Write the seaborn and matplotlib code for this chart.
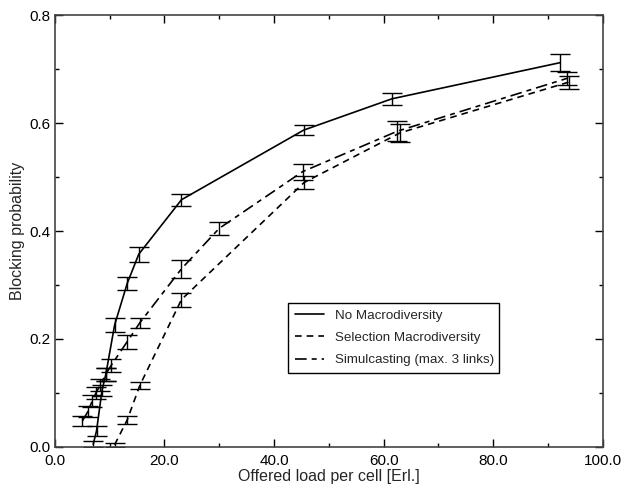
import pandas as pd
import seaborn as sns
import numpy as np
import matplotlib.pyplot as plt
from matplotlib.ticker import MultipleLocator, FormatStrFormatter

# values
no_macro_x = [7.0, 7.6, 8.6, 9.3, 10.9, 13.2, 15.3, 23.1, 45.4, 61.5, 92.2]
no_macro_y = [0.005, 0.03, 0.105, 0.135, 0.226, 0.303, 0.357, 0.458, 0.587, 0.645, 0.712]
no_macro_err = [0.006, 0.009, 0.01, 0.012, 0.013, 0.012, 0.014, 0.011, 0.009, 0.011, 0.016]

selection_x = [10.9, 13.2, 15.5, 23.1, 45.5, 63.0, 93.8]
selection_y = [0.004, 0.05, 0.114, 0.273, 0.49, 0.582, 0.676]
selection_err = [0.004, 0.008, 0.006, 0.013, 0.012, 0.017, 0.012]

simulcast_x = [5.0, 6.0, 6.8, 7.5, 8.3, 9.3, 10.2, 13.2, 15.5, 23.1, 30.0, 45.2, 62.5, 93.5]
simulcast_y = [0.048, 0.065, 0.085, 0.10, 0.115, 0.135, 0.15, 0.195, 0.23, 0.33, 0.405, 0.51, 0.585, 0.683]
simulcast_err = [0.01, 0.01, 0.011, 0.011, 0.011, 0.012, 0.012, 0.013, 0.009, 0.017, 0.012, 0.015, 0.019, 0.012]

sns.set_style('ticks')
plt.rcParams['font.family'] = ['Liberation Sans', 'DejaVu Sans']

fig = plt.figure(figsize=(6.24, 4.9), dpi=100)
ax = fig.add_axes([0.088, 0.088, 0.878, 0.881])

series = [
    ("No Macrodiversity", no_macro_x, no_macro_y, no_macro_err, '-'),
    ("Selection Macrodiversity", selection_x, selection_y, selection_err, (0, (4, 3))),
    ("Simulcasting (max. 3 links)", simulcast_x, simulcast_y, simulcast_err, (0, (7, 3, 3, 3))),
]

for name, xs, ys, errs, ls in series:
    df = pd.DataFrame({'x': xs, 'y': ys})
    sns.lineplot(data=df, x='x', y='y', ax=ax, color='black', linewidth=1.2,
                 linestyle=ls, label=name, sort=False)
    ax.errorbar(xs, ys, yerr=errs, fmt='none', ecolor='black', elinewidth=1.0,
                capsize=7.5, capthick=1.0)

ax.set_xlim(0, 100)
ax.set_ylim(0, 0.8)
ax.xaxis.set_major_locator(MultipleLocator(20))
ax.xaxis.set_minor_locator(MultipleLocator(10))
ax.yaxis.set_major_locator(MultipleLocator(0.2))
ax.yaxis.set_minor_locator(MultipleLocator(0.1))
ax.xaxis.set_major_formatter(FormatStrFormatter('%.1f'))
ax.yaxis.set_major_formatter(FormatStrFormatter('%.1f'))
ax.tick_params(which='both', direction='in', top=True, right=True, labelsize=11, colors='black')
ax.tick_params(which='major', length=6, width=1)
ax.tick_params(which='minor', length=3, width=1)
ax.tick_params(axis='x', pad=5)
for sp in ax.spines.values():
    sp.set_visible(True)
    sp.set_color('#444444')
    sp.set_linewidth(1.2)

ax.set_xlabel("Offered load per cell [Erl.]", fontsize=11.5, labelpad=1)
ax.set_ylabel("Blocking probability", fontsize=11.5, labelpad=3)

leg = ax.legend(loc='lower left', bbox_to_anchor=(0.426, 0.171, 0.385, 0.169), mode='expand',
                fontsize=9.6, frameon=True, fancybox=False, handlelength=2.2,
                borderpad=0.5, labelspacing=0.75, handletextpad=0.8, borderaxespad=0)
leg.get_frame().set_edgecolor('black')
leg.get_frame().set_linewidth(1.0)
leg.get_frame().set_alpha(1)

fig.savefig('out.png', dpi=100)
